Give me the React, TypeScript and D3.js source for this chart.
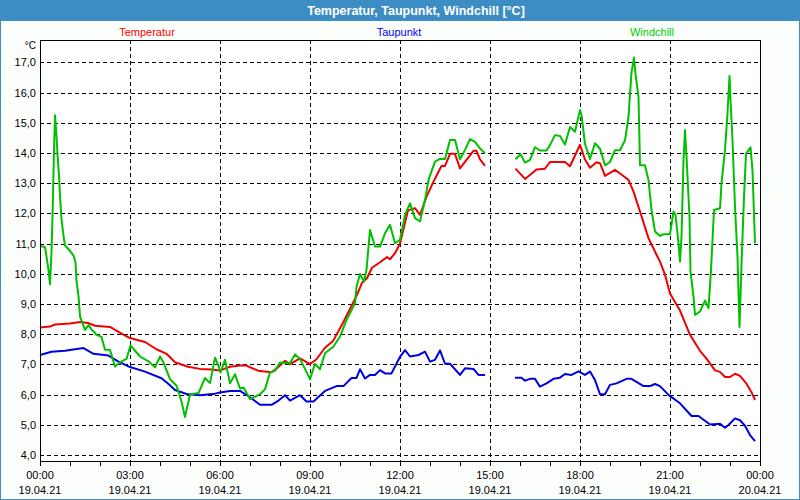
import React from 'react';
import * as d3 from 'd3';

// minutes since 19.04.21 00:00, null marks the gap in the record
const tempTime = [0, 20, 30, 60, 80, 96, 110, 140, 163, 180, 210, 233, 253, 270, 296, 320, 343, 360, 380, 400, 413, 436, 463, 476, 490, 500, 520, 540, 553, 570, 586, 606, 623, 634, 644, 654, 664, 680, 694, 700, 710, 720, 736, 750, 760, 773, 787, 803, 810, 820, 830, 840, 853, 867, 873, 880, 890,
  920,
  951, 970, 983, 993, 1010, 1020, 1050, 1060, 1080, 1090, 1100, 1113, 1120, 1130, 1150, 1160, 1177, 1187, 1200, 1217, 1233, 1240, 1250, 1260, 1280, 1300, 1313, 1320, 1333, 1350, 1360, 1370, 1380, 1390, 1400, 1413, 1423, 1430];
const tempValue = [8.22, 8.25, 8.32, 8.35, 8.4, 8.37, 8.28, 8.24, 8.02, 7.87, 7.74, 7.5, 7.35, 7.07, 6.92, 6.85, 6.83, 6.8, 6.92, 6.96, 6.96, 6.79, 6.74, 6.9, 7.12, 7.01, 7.2, 7.01, 7.17, 7.55, 7.77, 8.38, 8.93, 9.3, 9.7, 9.85, 10.2, 10.38, 10.55, 10.48, 10.68, 11.0, 12.1, 12.17, 11.95, 12.55, 13.05, 13.57, 13.57, 13.97, 13.97, 13.49, 13.77, 14.07, 14.07, 13.79, 13.57,
  null,
  13.48, 13.14, 13.31, 13.45, 13.48, 13.7, 13.7, 13.56, 14.27, 13.78, 13.51, 13.69, 13.66, 13.24, 13.44, 13.32, 13.11, 12.72, 12.06, 11.18, 10.63, 10.4, 9.97, 9.35, 8.78, 7.98, 7.63, 7.45, 7.19, 6.8, 6.75, 6.58, 6.58, 6.69, 6.62, 6.36, 6.08, 5.82];

const dewTime = [0, 23, 50, 87, 107, 137, 157, 180, 210, 243, 257, 270, 293, 320, 350, 360, 380, 400, 420, 440, 463, 477, 490, 500, 520, 533, 547, 570, 593, 607, 623, 633, 640, 650, 660, 670, 680, 690, 703, 720, 730, 740, 757, 770, 780, 790, 800, 810, 820, 840, 850, 867, 877, 890,
  920,
  950, 963, 970, 980, 990, 1000, 1013, 1027, 1040, 1050, 1063, 1077, 1090, 1100, 1110, 1120, 1130, 1140, 1153, 1173, 1183, 1207, 1220, 1230, 1240, 1257, 1280, 1303, 1317, 1340, 1360, 1370, 1377, 1390, 1400, 1410, 1420, 1430];
const dewValue = [7.31, 7.42, 7.45, 7.54, 7.35, 7.29, 7.09, 6.91, 6.76, 6.54, 6.35, 6.15, 6.02, 5.98, 6.03, 6.07, 6.12, 6.12, 5.91, 5.66, 5.66, 5.8, 5.98, 5.8, 5.98, 5.77, 5.77, 6.12, 6.28, 6.28, 6.55, 6.55, 6.84, 6.53, 6.65, 6.65, 6.81, 6.7, 6.7, 7.25, 7.47, 7.26, 7.31, 7.42, 7.09, 7.15, 7.46, 7.02, 7.02, 6.65, 6.87, 6.85, 6.65, 6.65,
  null,
  6.56, 6.56, 6.46, 6.52, 6.52, 6.26, 6.37, 6.52, 6.56, 6.68, 6.65, 6.77, 6.65, 6.76, 6.48, 6.01, 6.01, 6.32, 6.37, 6.52, 6.52, 6.28, 6.28, 6.35, 6.28, 5.99, 5.71, 5.29, 5.29, 5.01, 5.03, 4.9, 4.99, 5.21, 5.15, 4.97, 4.66, 4.46];

const chillTime = [0, 10, 13, 17, 20, 23, 25, 28, 30, 33, 35, 38, 40, 43, 47, 50, 60, 67, 71, 73, 77, 80, 90, 97, 103, 113, 123, 130, 140, 150, 163, 173, 181, 200, 217, 230, 240, 247, 260, 273, 283, 290, 300, 317, 330, 340, 350, 357, 361, 370, 380, 390, 400, 407, 420, 440, 450, 460, 470, 480, 500, 510, 520, 540, 550, 560, 570, 587, 600, 613, 630, 633, 640, 648, 653, 660, 670, 680, 690, 700, 710, 720, 730, 740, 750, 760, 770, 777, 790, 800, 810, 820, 830, 840, 850, 860, 870, 880, 890,
  920,
  951, 961, 970, 980, 990, 1000, 1013, 1020, 1030, 1040, 1050, 1060, 1070, 1080, 1083, 1090, 1100, 1110, 1120, 1130, 1140, 1150, 1160, 1170, 1177, 1183, 1188, 1191, 1197, 1200, 1210, 1217, 1223, 1230, 1240, 1247, 1260, 1267, 1271, 1277, 1280, 1283, 1287, 1290, 1293, 1299, 1301, 1307, 1310, 1320, 1330, 1337, 1342, 1348, 1360, 1363, 1370, 1375, 1379, 1381, 1385, 1390, 1395, 1399, 1403, 1408, 1412, 1421, 1425, 1430];
const chillValue = [10.93, 10.88, 10.57, 10.13, 9.65, 10.72, 11.88, 14.1, 15.25, 14.56, 13.96, 13.24, 12.58, 11.81, 11.26, 10.93, 10.76, 10.6, 10.38, 9.77, 9.26, 8.59, 8.14, 8.3, 8.16, 7.98, 7.91, 7.48, 7.48, 6.93, 7.1, 7.18, 7.63, 7.26, 7.1, 6.9, 7.26, 7.06, 6.51, 6.29, 5.77, 5.26, 6.0, 6.05, 6.55, 6.38, 7.22, 6.95, 6.73, 7.15, 6.37, 6.67, 6.2, 6.23, 5.85, 6.01, 6.18, 6.73, 6.79, 7.06, 7.04, 7.33, 7.18, 6.51, 7.01, 6.84, 7.37, 7.59, 7.92, 8.47, 9.02, 9.57, 9.99, 9.74, 10.13, 11.45, 10.9, 10.9, 11.34, 11.62, 11.01, 11.12, 11.95, 12.33, 11.84, 11.73, 12.44, 13.11, 13.71, 13.8, 13.8, 14.43, 14.43, 13.79, 14.1, 14.46, 14.37, 14.15, 13.99,
  null,
  13.79, 13.96, 13.68, 13.77, 14.19, 14.08, 14.08, 14.26, 14.59, 14.56, 14.28, 14.86, 14.7, 15.42, 15.26, 14.3, 13.8, 14.32, 14.14, 13.59, 13.7, 14.09, 14.09, 14.42, 15.19, 16.67, 17.16, 16.61, 15.85, 13.59, 13.59, 13.1, 12.11, 11.4, 11.25, 11.31, 11.31, 12.06, 11.95, 11.01, 10.4, 11.23, 13.77, 14.76, 13.88, 11.89, 10.07, 9.24, 8.64, 8.75, 9.11, 8.86, 10.13, 12.11, 12.17, 12.99, 14.1, 15.32, 16.55, 15.77, 14.43, 12.21, 10.56, 8.24, 10.31, 12.53, 13.97, 14.19, 13.42, 11.01];

const yTicks = [4, 5, 6, 7, 8, 9, 10, 11, 12, 13, 14, 15, 16, 17];
const xTickLabels = ['00:00', '03:00', '06:00', '09:00', '12:00', '15:00', '18:00', '21:00', '00:00'];
const xDateLabels = ['19.04.21', '19.04.21', '19.04.21', '19.04.21', '19.04.21', '19.04.21', '19.04.21', '19.04.21', '20.04.21'];

const series = [
  { name: 'Temperatur', time: tempTime, value: tempValue, color: '#f00000', text: '#ff0000', labelX: 147 },
  { name: 'Taupunkt', time: dewTime, value: dewValue, color: '#0000e6', text: '#0000ff', labelX: 399 },
  { name: 'Windchill', time: chillTime, value: chillValue, color: '#00c000', text: '#00cc00', labelX: 652 },
];

const W = 800;
const H = 500;
const left = 40, right = 760, top = 40, bottom = 461;
const font = '"Liberation Sans", Arial, sans-serif';
const frameBlue = '#3c8dc3';

export default function App() {
  const x = d3.scaleLinear().domain([0, 1440]).range([left, right]);
  const y = d3.scaleLinear().domain([3.8, 17.74]).range([bottom, top]);
  const fmt = (v: number) => v.toFixed(1).replace('.', ',');

  const line = d3.line<[number, number | null]>()
    .defined(d => d[1] !== null)
    .x(d => x(d[0]))
    .y(d => y(d[1] as number));

  const hours = d3.range(0, 25);

  return (
    <div style={{ position: 'absolute', left: 0, top: 0 }}>
      <svg width={W} height={H} style={{ display: 'block', fontFamily: font }}>
        <rect x={0} y={0} width={W} height={H} fill="#fcfefc" />
        {/* title bar and window border */}
        <rect x={0} y={0} width={W} height={21} fill={frameBlue} />
        <rect x={0.5} y={0.5} width={W - 1} height={H - 1} fill="none" stroke={frameBlue} />
        <text x={416} y={15} textAnchor="middle" fill="#ffffff" fontWeight="bold" fontSize={12.5}>
          Temperatur, Taupunkt, Windchill [°C]
        </text>

        {series.map(s => (
          <text key={s.name} x={s.labelX} y={36} textAnchor="middle" fill={s.text} fontSize={11}>{s.name}</text>
        ))}
        <text x={36} y={49} textAnchor="end" fontSize={10} fill="#000">°C</text>

        <rect x={left} y={top} width={right - left} height={bottom - top} fill="#ffffff" />

        {/* grid */}
        <g stroke="#000" strokeWidth={1} strokeDasharray="4,3" shapeRendering="crispEdges">
          {yTicks.map(t => (
            <line key={'h' + t} x1={left} x2={right} y1={Math.round(y(t)) + 0.5} y2={Math.round(y(t)) + 0.5} />
          ))}
          {xTickLabels.slice(1, -1).map((_, i) => {
            const xx = Math.round(x((i + 1) * 180)) + 0.5;
            return <line key={'v' + i} x1={xx} x2={xx} y1={top} y2={bottom} />;
          })}
        </g>

        {/* y labels */}
        {yTicks.map(t => (
          <text key={'yl' + t} x={36} y={y(t) + 4} textAnchor="end" fontSize={11} fill="#000">{fmt(t)}</text>
        ))}

        {/* hour ticks */}
        <g stroke="#000" shapeRendering="crispEdges">
          {hours.map(h => {
            const xx = Math.round(x(h * 60)) + 0.5;
            return <line key={'t' + h} x1={xx} x2={xx} y1={bottom} y2={bottom + 5} />;
          })}
        </g>

        {xTickLabels.map((l, i) => (
          <g key={'xl' + i}>
            <text x={x(i * 180)} y={479} textAnchor="middle" fontSize={11} fill="#000">{l}</text>
            <text x={x(i * 180)} y={494} textAnchor="middle" fontSize={11} fill="#000">{xDateLabels[i]}</text>
          </g>
        ))}

        {/* series */}
        {series.map(s => {
          const pts = s.time.map((t, i) => [t, s.value[i]] as [number, number | null]);
          return (
            <path key={'p' + s.name} d={line(pts) || ''} fill="none" stroke={s.color} strokeWidth={2}
              strokeLinejoin="round" />
          );
        })}

        <rect x={left + 0.5} y={top + 0.5} width={right - left} height={bottom - top} fill="none" stroke="#000" shapeRendering="crispEdges" />
      </svg>
    </div>
  );
}
